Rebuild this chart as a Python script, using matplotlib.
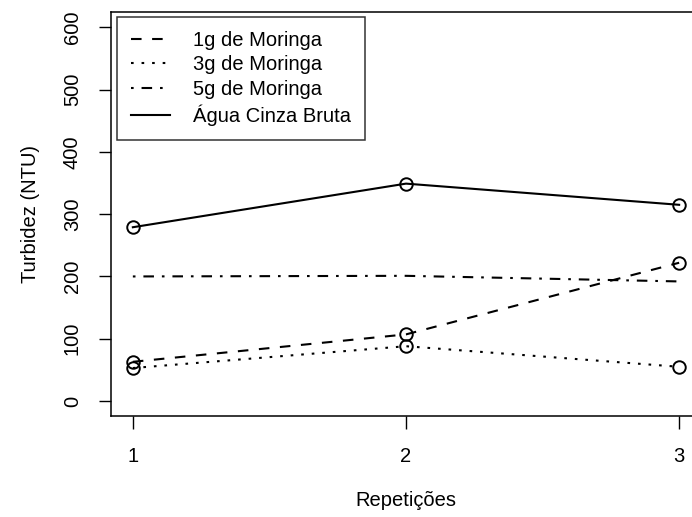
import matplotlib
matplotlib.use("Agg")
import matplotlib.pyplot as plt

# Data
repeticoes = [1, 2, 3]
moringa_1g = [63, 107, 222]
moringa_3g = [53, 88, 55]
moringa_5g = [200, 201, 192]
agua_bruta = [279, 349, 315]

series_labels = ["1g de Moringa", "3g de Moringa", "5g de Moringa", "Água Cinza Bruta"]
y_ticks = [0, 100, 200, 300, 400, 500, 600]
x_ticks = [1, 2, 3]

plt.rcParams['font.family'] = ['Liberation Sans', 'DejaVu Sans']
plt.rcParams['lines.scale_dashes'] = False

W, H = 692, 517
fig = plt.figure(figsize=(W / 100, H / 100), dpi=100)
left, right, top, bottom = 111, 701, 12.3, 416
ax = fig.add_axes([left / W, 1 - bottom / H, (right - left) / W, (bottom - top) / H])

fs = 14.5
lw = 1.5
u = 1.9  # dash unit in points
ms = 9
mew = 1.4

l1, = ax.plot(repeticoes, moringa_1g, color='black', lw=lw, linestyle=(0, (4 * u, 4 * u)),
              marker='o', ms=ms, mfc='none', mew=mew)
l3, = ax.plot(repeticoes, moringa_3g, color='black', lw=lw, linestyle=(0, (1 * u, 3 * u)),
              marker='o', ms=ms, mfc='none', mew=mew)
l5, = ax.plot(repeticoes, moringa_5g, color='black', lw=lw, linestyle=(0, (1 * u, 3 * u, 4 * u, 3 * u)))
la, = ax.plot(repeticoes, agua_bruta, color='black', lw=lw, linestyle='-',
              marker='o', ms=ms, mfc='none', mew=mew)

ax.set_xlim(0.92, 3.08)
ax.set_ylim(-24, 624)
ax.set_xticks(x_ticks)
ax.set_xticklabels([str(v) for v in x_ticks])
ax.set_yticks(y_ticks)
ax.set_yticklabels([str(v) for v in y_ticks])

for s in ax.spines.values():
    s.set_linewidth(1.1)

ax.tick_params(axis='both', direction='out', length=9, width=1.0, labelsize=fs, colors='black')
ax.tick_params(axis='x', pad=13)
ax.tick_params(axis='y', pad=12, labelrotation=90)
for t in ax.get_yticklabels():
    t.set_va('center')
    t.set_ha('right')

ax.set_xlabel("Repetições", fontsize=fs)
ax.xaxis.label.set_va('center')
ax.xaxis.set_label_coords(0.5, (bottom - 501) / (bottom - top))
ax.set_ylabel("Turbidez (NTU)", fontsize=fs)
ax.yaxis.label.set_va('center')
ax.yaxis.label.set_ha('center')
ax.yaxis.set_label_coords((31 - left) / (right - left), 0.5)

leg_handles = [
    plt.Line2D([], [], color='black', lw=lw, linestyle=(0, (4 * u, 4 * u))),
    plt.Line2D([], [], color='black', lw=lw, linestyle=(0, (1 * u, 3 * u))),
    plt.Line2D([], [], color='black', lw=lw, linestyle=(0, (1 * u, 3 * u, 4 * u, 3 * u))),
    plt.Line2D([], [], color='black', lw=lw, linestyle='-'),
]
leg = ax.legend(leg_handles, series_labels, loc='upper left',
                bbox_to_anchor=(117.3 / W, 1 - 16.7 / H), bbox_transform=fig.transFigure,
                borderaxespad=0, fontsize=fs, frameon=True, fancybox=False,
                handlelength=1.9, handletextpad=1.15, borderpad=0.7, labelspacing=0.28)
leg.get_frame().set_edgecolor('black')
leg.get_frame().set_linewidth(1.1)

fig.savefig("out.png", dpi=100)
